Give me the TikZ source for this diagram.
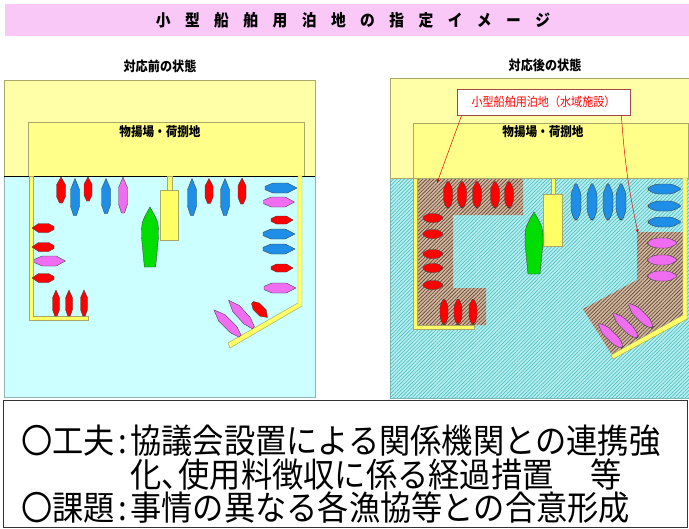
\documentclass[tikz,border=0pt]{standalone}
\usepackage{fontspec}
\newfontfamily\jpfont[FakeStretch=0.9]{Noto Sans CJK JP}
\newfontfamily\memofont[FakeStretch=0.92]{Noto Sans CJK JP}
\usetikzlibrary{arrows.meta,patterns.meta}

\definecolor{titlepink}{HTML}{F9C8F6}
\definecolor{landyellow}{HTML}{FFFFA8}
\definecolor{yardyellow}{HTML}{FFFF8A}
\definecolor{wallyellow}{HTML}{FFFF66}
\definecolor{edgeolive}{HTML}{A8A868}
\definecolor{seacyan}{HTML}{CCFFFF}
\definecolor{seaedge}{HTML}{90B4B4}
\definecolor{hatchbg}{HTML}{BAF0F0}
\definecolor{hatchfg}{HTML}{4CBEC2}
\definecolor{berthbg}{HTML}{D6BBA2}
\definecolor{berthfg}{HTML}{6A5040}
\definecolor{boatred}{HTML}{FF0000}
\definecolor{boatblue}{HTML}{1E8EE6}
\definecolor{boatpink}{HTML}{F06CF0}
\definecolor{boatgreen}{HTML}{00DD00}
\definecolor{tagedge}{HTML}{A04848}

\tikzset{
  land/.style={draw=edgeolive,fill=landyellow,line width=0.5pt},
  yard/.style={draw=edgeolive,fill=yardyellow,line width=0.5pt},
  wall/.style={draw=edgeolive,fill=wallyellow,line width=0.4pt},
  sea/.style={draw=seaedge,fill=seacyan,line width=0.6pt},
  hatchsea/.style={draw=seaedge,fill=hatchbg,line width=0.6pt,
    postaction={pattern={Lines[angle=45,distance=2.2pt,line width=0.6pt]},pattern color=hatchfg}},
  berth/.style={fill=berthbg,
    postaction={pattern={Lines[angle=45,distance=2.2pt,line width=0.7pt]},pattern color=berthfg}},
  hull/.style={draw=black!75,line width=0.3pt},
  lens/.style={rounded corners=2.4pt},
  heading/.style={font=\jpfont\bfseries\fontsize{11.5}{12}\selectfont},
  yardname/.style={font=\jpfont\bfseries\fontsize{11}{12}\selectfont},
  tagbox/.style={draw=tagedge,fill=white,text=red,line width=0.6pt,inner sep=0pt,
    minimum width=5.19cm,minimum height=0.78cm,font=\jpfont\fontsize{10.5}{12}\selectfont},
  leader/.style={draw=red!85!black,line width=0.4pt,-{Latex[length=3pt,width=2.4pt]}},
  memo/.style={anchor=base west,inner sep=0pt,font=\memofont\fontsize{29}{30}\selectfont}
}

% boat: [style]{x}{y}{heading}{length}{beam}{colour}
\newcommand{\boat}[7][]{%
  \filldraw[hull,fill=#7,#1,shift={(#2,#3)},rotate=#4]
    (#5/2,0) -- (#5/5,#6/2) -- (-#5/4,#6/2) -- (-#5/2,#6/6)
    -- (-#5/2,-#6/6) -- (-#5/4,-#6/2) -- (#5/5,-#6/2) -- cycle;}
% big vessel, square stern: {x}{y}{length}{beam}
\newcommand{\vessel}[4]{%
  \filldraw[hull,fill=boatgreen,shift={(#1,#2)},rotate=90]
    (#3/2,0) .. controls (#3/4,#4/2) .. (0,#4/2) -- (-#3/2,#4/3)
    -- (-#3/2,-#4/3) -- (0,-#4/2) .. controls (#3/4,-#4/2) .. cycle;}
\newcommand{\tsp}{\hspace{0.88em}}

\begin{document}
\begin{tikzpicture}[x={(0.03cm,0cm)}, y={(0cm,-0.03cm)}] % one unit = one pixel, y downwards
\useasboundingbox (0,0) rectangle (689,529);
\fill[white] (0,0) rectangle (689,529);

% title bar
\fill[titlepink] (5,4) rectangle (689,36);
\node[font=\jpfont\bfseries\fontsize{14}{14}\selectfont] (title) at (353,20)
  {小\tsp 型\tsp 船\tsp 舶\tsp 用\tsp 泊\tsp 地\tsp の\tsp 指\tsp 定\tsp イ\tsp メ\tsp ー\tsp ジ};

%%% before
\node[heading] (before) at (160,66) {対応前の状態};
\draw[sea] (4,176) rectangle (315,397);
\draw[land] (4,80) rectangle (315,176);
\draw[yard] (28,122) rectangle (304,176);
\draw[black,line width=0.8pt] (4,176) -- (315,176);
\node[yardname] (yardL) at (160,132) {物揚場・荷捌地};

% quay walls and pier
\filldraw[wall] (29,176) -- (33,176) -- (33,316) -- (88,316) -- (88,320) -- (29,320) -- cycle;
\filldraw[wall] (298,176) -- (302,176) -- (302,306) -- (230,348) -- (228,343) -- (298,303) -- cycle;
\filldraw[wall] (167,176) rectangle (172,190);
\filldraw[wall] (160,190) rectangle (178,240);

% top row
\boat{61}{190}{90}{26}{9}{boatred}
\boat{75}{197}{90}{37}{9}{boatblue}
\boat{88}{189}{90}{24}{8}{boatred}
\boat{106}{196}{90}{35}{9}{boatblue}
\boat{123}{195}{90}{36}{9}{boatpink}
\boat{192}{197}{90}{37}{9}{boatblue}
\boat{209}{191}{90}{25}{8}{boatred}
\boat{225}{197}{90}{37}{9}{boatblue}
\boat{242}{191}{90}{26}{8}{boatred}
% left wall
\boat{43}{228}{180}{22}{9}{boatred}
\boat{43}{247}{180}{22}{9}{boatred}
\boat{50}{261}{0}{31}{10}{boatpink}
\boat{43}{278}{180}{22}{9}{boatred}
\boat{56}{303}{90}{26}{7}{boatred}
\boat{69}{303}{90}{26}{7}{boatred}
\boat{84}{303}{90}{26}{7}{boatred}
% right wall
\boat{281}{188}{0}{32}{10}{boatblue}
\boat{279}{202}{0}{31}{10}{boatpink}
\boat{282}{220}{0}{22}{8}{boatred}
\boat{279}{234}{0}{32}{10}{boatblue}
\boat{279}{249}{0}{32}{10}{boatblue}
\boat{282}{268}{0}{22}{8}{boatred}
\boat{280}{288}{0}{32}{10}{boatpink}
\boat{227}{323}{135}{37}{9}{boatpink}
\boat{241}{314}{132}{37}{9}{boatpink}
\boat{260}{310}{-45}{21}{9}{boatred}
% big vessel at the pier
\vessel{150}{237}{60}{17}

%%% after
\node[heading] (after) at (545,65) {対応後の状態};
\draw[hatchsea] (390,178) rectangle (689,398);
\draw[land] (390,78) rectangle (689,178);
\draw[yard] (413,123) rectangle (688,178);
\node[yardname] (yardR) at (543,132) {物揚場・荷捌地};

% anchorage areas
\fill[berth] (417,179) -- (523,179) -- (523,215) -- (453,215) -- (453,288) -- (486,288) -- (486,325) -- (417,325) -- cycle;
\fill[berth] (637,232) -- (683,232) -- (683,316) -- (612,355) -- (583,309) -- (637,280) -- cycle;

\filldraw[wall] (413,178) -- (417,178) -- (417,325) -- (474,325) -- (474,329) -- (413,329) -- cycle;
\filldraw[wall] (683,178) -- (687,178) -- (687,319) -- (613,359) -- (611,355) -- (683,315) -- cycle;
\filldraw[wall] (551,178) rectangle (555,194);
\filldraw[wall] (543,194) rectangle (562,246);

\boat[lens]{448}{194}{90}{28}{9}{boatred}
\boat[lens]{462}{194}{90}{28}{9}{boatred}
\boat[lens]{477}{194}{90}{28}{9}{boatred}
\boat[lens]{495}{194}{90}{28}{9}{boatred}
\boat[lens]{509}{194}{90}{28}{9}{boatred}
\boat[lens]{432}{218}{180}{21}{9}{boatred}
\boat[lens]{432}{234}{180}{21}{9}{boatred}
\boat[lens]{432}{254}{180}{21}{9}{boatred}
\boat[lens]{432}{268}{180}{21}{9}{boatred}
\boat[lens]{432}{285}{180}{21}{9}{boatred}
\boat[lens]{444}{311}{90}{27}{8}{boatred}
\boat[lens]{458}{311}{90}{27}{8}{boatred}
\boat[lens]{473}{311}{90}{27}{8}{boatred}

\boat[lens]{576}{201}{90}{38}{10}{boatblue}
\boat[lens]{592}{201}{90}{38}{10}{boatblue}
\boat[lens]{608}{201}{90}{38}{10}{boatblue}
\boat[lens]{621}{201}{90}{38}{10}{boatblue}
\boat[lens]{665}{189}{0}{34}{10}{boatblue}
\boat[lens]{665}{206}{0}{34}{10}{boatblue}
\boat[lens]{665}{222}{0}{34}{10}{boatblue}

\boat[lens]{663}{243}{0}{31}{10}{boatpink}
\boat[lens]{663}{260}{0}{31}{10}{boatpink}
\boat[lens]{663}{276}{0}{31}{10}{boatpink}
\boat[lens]{610}{335}{135}{35}{9}{boatpink}
\boat[lens]{625}{325}{135}{35}{9}{boatpink}
\boat[lens]{640}{315}{135}{35}{9}{boatpink}

\vessel{534}{243}{62}{18}

% label with leaders
\node[tagbox] (tag) at (543.5,102) {小型船舶用泊地（水域施設）};
\coordinate (berthA) at (437,183);
\coordinate (berthB) at (638,233);
\draw[leader] ([xshift=0.15cm]tag.south west) -- (berthA);
\draw[leader] ([xshift=-0.27cm]tag.south east) to[bend right=4] (berthB);

%%% notes
\draw[black!80,line width=0.8pt] (3,400) rectangle (687,527);
\node[memo] (memoA) at (21,453) {〇工夫\makebox[0.45em]{:}協議会設置による関係機関との連携強};
\node[memo] (memoB) at (130,487) {化\makebox[0.5em][l]{、}使用料徴収に係る経過措置\hspace{1.1em}等};
\node[memo] (memoC) at (21,520) {〇課題\makebox[0.45em]{:}事情の異なる各漁協等との合意形成};
\end{tikzpicture}
\end{document}
